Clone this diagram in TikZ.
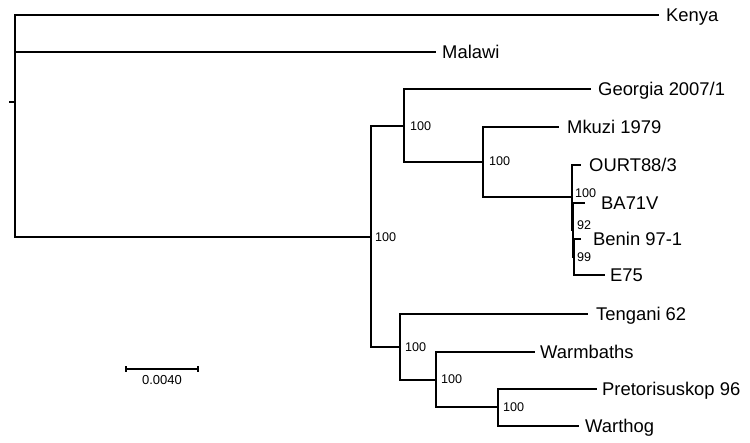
\documentclass[tikz,border=0pt]{standalone}
\usepackage{fontspec}
\setmainfont{Liberation Sans}
\begin{document}
\begin{tikzpicture}[x=1pt,y=-1pt,
  br/.style={line width=1.6pt},
  leaf/.style={anchor=base west, inner sep=0pt, font=\fontsize{18.4}{20}\selectfont},
  boot/.style={anchor=west, inner sep=0pt, font=\fontsize{12.6}{14}\selectfont},
  sbar/.style={line width=1.3pt}]
\useasboundingbox (0,0) rectangle (750,443);
% internal nodes
\coordinate (stub) at (9,102);
\coordinate (root) at (15,102);
\coordinate (n1) at (371,237);
\coordinate (n2) at (404,126);
\coordinate (n3) at (483,162);
\coordinate (n4) at (572,197);
\coordinate (n5) at (573,230);
\coordinate (n6) at (574,257);
\coordinate (n7) at (400,347);
\coordinate (n8) at (436,380);
\coordinate (n9) at (498,407);
% tips
\coordinate (tKenya) at (659,15);
\coordinate (tMalawi) at (436,52);
\coordinate (tGeorgia) at (591,89);
\coordinate (tMkuzi) at (559,127);
\coordinate (tOURT) at (581,165);
\coordinate (tBA) at (585,203);
\coordinate (tBenin) at (581,239);
\coordinate (tE) at (605,275);
\coordinate (tTengani) at (588,314);
\coordinate (tWarm) at (535,352);
\coordinate (tPret) at (597,389);
\coordinate (tWart) at (579,426);
% edges
\draw[br] (stub) -- (root);
\draw[br] (root) |- (tKenya);
\draw[br] (root) |- (tMalawi);
\draw[br] (root) |- (n1);
\draw[br] (n1) |- (n2);
\draw[br] (n1) |- (n7);
\draw[br] (n2) |- (tGeorgia);
\draw[br] (n2) |- (n3);
\draw[br] (n3) |- (tMkuzi);
\draw[br] (n3) |- (n4);
\draw[br] (n4) |- (tOURT);
\draw[br] (n4) |- (n5);
\draw[br] (n5) |- (tBA);
\draw[br] (n5) |- (n6);
\draw[br] (n6) |- (tBenin);
\draw[br] (n6) |- (tE);
\draw[br] (n7) |- (tTengani);
\draw[br] (n7) |- (n8);
\draw[br] (n8) |- (tWarm);
\draw[br] (n8) |- (n9);
\draw[br] (n9) |- (tPret);
\draw[br] (n9) |- (tWart);
% leaf labels
\node[leaf] (lKenya) at (666,21.3) {Kenya};
\node[leaf] (lMalawi) at (442,58.3) {Malawi};
\node[leaf] (lGeorgia) at (598,95.3) {Georgia 2007/1};
\node[leaf] (lMkuzi) at (567,133.3) {Mkuzi 1979};
\node[leaf] (lOURT) at (589,171.3) {OURT88/3};
\node[leaf] (lBA) at (601,209.3) {BA71V};
\node[leaf] (lBenin) at (593,245.3) {Benin 97-1};
\node[leaf] (lE) at (610,281.3) {E75};
\node[leaf] (lTengani) at (596,320.3) {Tengani 62};
\node[leaf] (lWarm) at (540,358.3) {Warmbaths};
\node[leaf] (lPret) at (602,395.3) {Pretorisuskop 96};
\node[leaf] (lWart) at (585,432.3) {Warthog};
% bootstrap labels
\node[boot] (b1) at (375,237) {100};
\node[boot] (b2) at (410,126) {100};
\node[boot] (b3) at (489,161) {100};
\node[boot] (b4) at (575,193) {100};
\node[boot] (b5) at (577,225.5) {92};
\node[boot] (b6) at (577,257) {99};
\node[boot] (b7) at (405,347) {100};
\node[boot] (b8) at (441,379) {100};
\node[boot] (b9) at (503,407) {100};
% scale bar
\coordinate (sbL) at (126,369);
\coordinate (sbR) at (198,369);
\draw[sbar] (sbL) -- (sbR);
\draw[sbar] ([yshift=-3pt]sbL) -- ([yshift=3pt]sbL);
\draw[sbar] ([yshift=-3pt]sbR) -- ([yshift=3pt]sbR);
\node[anchor=center, inner sep=0pt, font=\fontsize{13}{15}\selectfont] (sbl) at (162,380) {0.0040};
\end{tikzpicture}
\end{document}
